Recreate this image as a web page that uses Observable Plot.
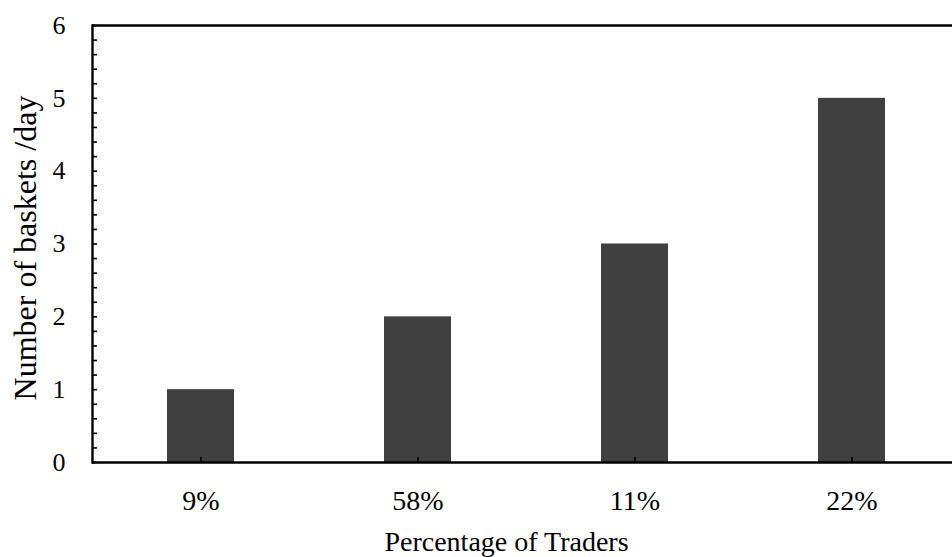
<!DOCTYPE html>
<html>
<head>
<meta charset="utf-8">
<script src="https://cdn.jsdelivr.net/npm/d3@7"></script>
<script src="https://cdn.jsdelivr.net/npm/@observablehq/plot@0.6"></script>
<style>
  html, body { margin: 0; padding: 0; background: #fff; }
  #chart svg { display: block; }
</style>
</head>
<body>
<div id="chart"></div>
<script>
const categories = ["9%", "58%", "11%", "22%"];
const baskets = [1, 2, 3, 5];
const yMajorTicks = [0, 1, 2, 3, 4, 5, 6];
const yMinorTicks = d3.ticks(0, 6, 30);
const xTitle = "Percentage of Traders";
const yTitle = "Number of baskets /day";

const data = categories.map((c, i) => ({category: c, value: baskets[i]}));

const chart = Plot.plot({
  width: 952,
  height: 557,
  marginTop: 25,
  marginBottom: 95,
  marginLeft: 92,
  marginRight: 0,
  style: {fontFamily: "'Liberation Serif', 'Times New Roman', serif", fontSize: "26px", color: "#000", background: "#fff"},
  x: {domain: categories, range: [92, 960], paddingInner: 0.69, paddingOuter: 0.345, align: 0.5},
  y: {domain: [0, 6], range: [462, 25]},
  marks: [
    Plot.barY(data, {x: "category", y: "value", fill: "#404040"}),
    Plot.axisY({ticks: yMinorTicks, tickSize: 5, dx: 5, text: null, label: null, strokeWidth: 1.6}),
    Plot.axisY({ticks: yMajorTicks, tickSize: 0, tickPadding: 27, label: null, fontSize: 26, tickFormat: d3.format("d")}),
    Plot.axisX({tickSize: 5, dy: -5, text: null, label: null, strokeWidth: 1.6}),
    Plot.axisX({tickSize: 0, tickPadding: 28, label: null, fontSize: 28}),
    Plot.ruleY([0, 6], {stroke: "#000", strokeWidth: 2.4}),
    Plot.frame({anchor: "left", stroke: "#000", strokeWidth: 2.4}),
    Plot.text([xTitle], {frameAnchor: "bottom", textAnchor: "middle", lineAnchor: "bottom", dx: -16, dy: 88, text: d => d, fontSize: 28, fill: "#000"}),
    Plot.text([yTitle], {frameAnchor: "left", textAnchor: "middle", lineAnchor: "bottom", rotate: -90, dx: -57, dy: 4, text: d => d, fontSize: 32, fill: "#000"})
  ]
});
document.getElementById("chart").appendChild(chart);
</script>
</body>
</html>
